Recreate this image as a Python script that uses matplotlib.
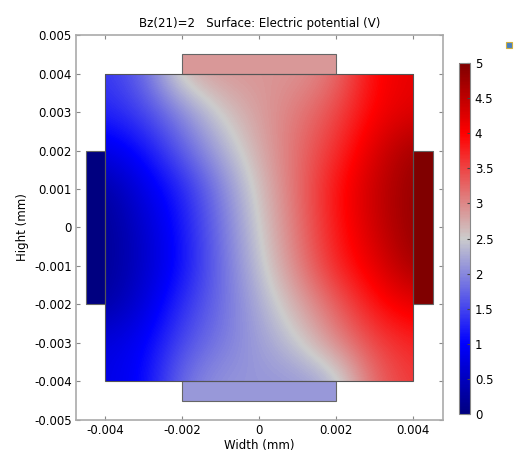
import numpy as np
import matplotlib
matplotlib.use("Agg")
import matplotlib.pyplot as plt
from matplotlib.colors import LinearSegmentedColormap
from matplotlib.patches import Rectangle

# grid coordinates (mm) of sampled potential values
x_grid = [-0.004, -0.003, -0.002, -0.001, 0.0, 0.001, 0.002, 0.003, 0.004]
y_grid = [0.004, 0.003, 0.002, 0.001, 0.0, -0.001, -0.002, -0.003, -0.004]

# potential (V), rows top -> bottom
pot_y4 = [1.40, 1.75, 2.75, 2.90, 2.90, 2.90, 3.15, 4.00, 4.20]
pot_y3 = [1.25, 1.50, 2.00, 2.55, 2.85, 3.10, 3.45, 4.05, 4.25]
pot_y2 = [0.80, 1.10, 1.70, 2.25, 2.75, 3.20, 3.65, 4.30, 4.75]
pot_y1 = [0.25, 0.80, 1.25, 1.95, 2.60, 3.20, 3.90, 4.45, 4.85]
pot_y0 = [0.15, 0.60, 1.15, 1.85, 2.50, 3.15, 3.85, 4.40, 4.85]
pot_ym1 = [0.15, 0.55, 1.10, 1.80, 2.40, 3.05, 3.75, 4.20, 4.75]
pot_ym2 = [0.25, 0.70, 1.35, 1.80, 2.25, 2.75, 3.30, 3.90, 4.20]
pot_ym3 = [0.75, 0.95, 1.55, 1.90, 2.15, 2.45, 3.00, 3.50, 3.75]
pot_ym4 = [0.80, 1.00, 1.85, 2.10, 2.10, 2.10, 2.25, 3.25, 3.60]

# electrode potentials (V)
v_left, v_right, v_top, v_bottom = 0.0, 5.0, 2.88, 2.12

cbar_ticks = [0, 0.5, 1, 1.5, 2, 2.5, 3, 3.5, 4, 4.5, 5]
cbar_labels = ["0", "0.5", "1", "1.5", "2", "2.5", "3", "3.5", "4", "4.5", "5"]
x_ticks = [-0.004, -0.002, 0, 0.002, 0.004]
x_labels = ["-0.004", "-0.002", "0", "0.002", "0.004"]
y_ticks = [0.005, 0.004, 0.003, 0.002, 0.001, 0, -0.001, -0.002, -0.003, -0.004, -0.005]
y_labels = ["0.005", "0.004", "0.003", "0.002", "0.001", "0", "-0.001", "-0.002", "-0.003", "-0.004", "-0.005"]

field = np.array([pot_y4, pot_y3, pot_y2, pot_y1, pot_y0, pot_ym1, pot_ym2, pot_ym3, pot_ym4])

cmap = LinearSegmentedColormap.from_list("wave", [
    (0.0, (0.0, 0.0, 0.50)),
    (0.2, (0.0, 0.0, 1.0)),
    (0.5, (0.80, 0.80, 0.80)),
    (0.8, (1.0, 0.0, 0.0)),
    (1.0, (0.50, 0.0, 0.0)),
])
vmin, vmax = 0, 5

fig = plt.figure(figsize=(5.14, 4.54), dpi=100)
ax = fig.add_axes([0.1479, 0.0749, 0.7140, 0.8480])

dx = x_grid[1] - x_grid[0]
ext = [x_grid[0] - dx / 2, x_grid[-1] + dx / 2, y_grid[-1] - dx / 2, y_grid[0] + dx / 2]
im = ax.imshow(field, extent=ext, origin="upper", cmap=cmap, vmin=vmin, vmax=vmax,
               interpolation="bicubic", zorder=1)
clip = Rectangle((-0.004, -0.004), 0.008, 0.008, transform=ax.transData)
im.set_clip_path(clip)
ax.add_patch(Rectangle((-0.004, -0.004), 0.008, 0.008, fill=False,
                       edgecolor="#555555", lw=0.8, zorder=3))

norm = plt.Normalize(vmin, vmax)
ec = "#666666"
ax.add_patch(Rectangle((-0.0045, -0.002), 0.0005, 0.004, facecolor=cmap(norm(v_left)),
                       edgecolor=ec, lw=0.8, zorder=2))
ax.add_patch(Rectangle((0.004, -0.002), 0.0005, 0.004, facecolor=cmap(norm(v_right)),
                       edgecolor=ec, lw=0.8, zorder=2))
ax.add_patch(Rectangle((-0.002, 0.004), 0.004, 0.0005, facecolor=cmap(norm(v_top)),
                       edgecolor=ec, lw=0.8, zorder=2))
ax.add_patch(Rectangle((-0.002, -0.0045), 0.004, 0.0005, facecolor=cmap(norm(v_bottom)),
                       edgecolor=ec, lw=0.8, zorder=2))

ax.set_xlim(-0.00476, 0.00477)
ax.set_ylim(-0.005, 0.005)
ax.set_aspect("auto")
ax.set_xticks(x_ticks)
ax.set_xticklabels(x_labels)
ax.set_yticks(y_ticks)
ax.set_yticklabels(y_labels)
ax.tick_params(direction="in", length=3, width=0.8, color="#888888", labelsize=8.5,
               top=True, right=True, pad=3)
for s in ax.spines.values():
    s.set_color("#aaaaaa")
    s.set_linewidth(1.2)
ax.set_xlabel("Width (mm)", fontsize=8.5, labelpad=1)
ax.set_ylabel("Hight (mm)", fontsize=8.5, labelpad=4)
ax.set_title("Bz(21)=2   Surface: Electric potential (V)", fontsize=8.5, pad=6)

cax = fig.add_axes([0.893, 0.0881, 0.0214, 0.773])
cb = fig.colorbar(im, cax=cax, ticks=cbar_ticks)
cb.ax.set_yticklabels(cbar_labels)
cb.ax.tick_params(labelsize=8.5, length=2, color="#444444", direction="in")
cb.outline.set_edgecolor("#888888")
cb.outline.set_linewidth(0.8)

# small toolbar icon at top-right
fig.patches.append(Rectangle((0.985, 0.895), 0.012, 0.012, transform=fig.transFigure,
                             facecolor="#4a7fc0", edgecolor="#d0b040", lw=0.8))

fig.savefig("out.png", dpi=100)
